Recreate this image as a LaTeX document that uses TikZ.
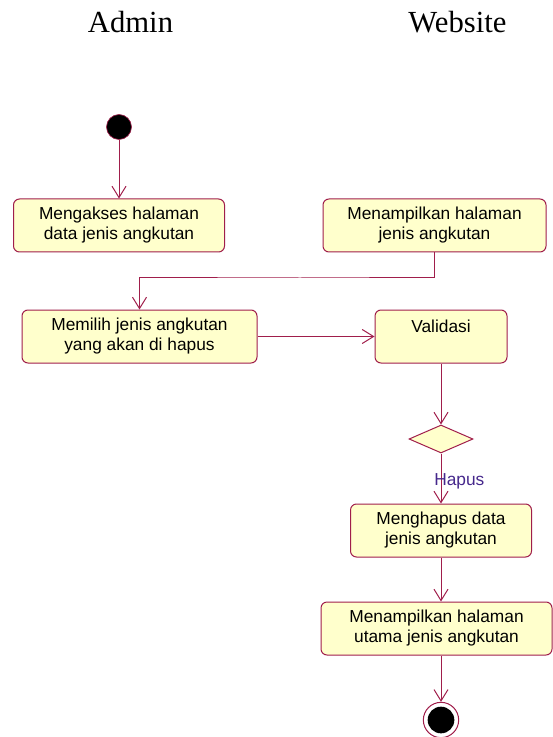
\documentclass[tikz,border=0pt]{standalone}
\usepackage{fontspec}
\setmainfont{Liberation Sans}
\newfontfamily\titlefont{Liberation Serif}
\usetikzlibrary{arrows.meta,shapes.geometric}
\definecolor{garis}{RGB}{160,30,75}
\definecolor{isian}{RGB}{255,255,204}
\definecolor{ungu}{RGB}{70,40,140}

\begin{document}
\begin{tikzpicture}[x=0.75pt, y=-0.75pt, >={Straight Barb[length=8.5pt,width=10.5pt]},
    aksi/.style={draw=garis, fill=isian, line width=0.75pt, rounded corners=4.5pt,
        align=center, inner sep=0pt, minimum height=39.75pt,
        font=\fontsize{13}{15}\selectfont},
    alur/.style={draw=garis, line width=0.75pt, ->},
    judul/.style={anchor=base, font=\titlefont\fontsize{23}{26}\selectfont}]
    \useasboundingbox (0,0) rectangle (552,737);

    % 1. Judul swimlane
    \node[judul] (admin) at (130.5,33) {Admin};
    \node[judul] (web) at (457.5,33) {Website};

    % 2. Titik awal dan akhir
    \node[circle, fill=black, draw=garis, line width=0.5pt, minimum size=18.75pt, inner sep=0pt] (mulai) at (119,127) {};
    \node[circle, fill=white, draw=garis, line width=0.75pt, minimum size=26.5pt, inner sep=0pt] (selesai) at (441,720) {};
    \fill[black] (selesai.center) circle (10pt);

    % 3. Aktivitas
    \node[aksi, minimum width=158.25pt] (akses) at (119,225.5) {Mengakses halaman\\data jenis angkutan};
    \node[aksi, minimum width=167.25pt] (tampil) at (434.5,225.5) {Menampilkan halaman\\jenis angkutan};
    \node[aksi, minimum width=176.25pt] (pilih) at (139.5,336.5) {Memilih jenis angkutan\\yang akan di hapus};
    \node[aksi, minimum width=99pt] (validasi) at (441,336.5) {Validasi\\\mbox{}};
    \node[draw=garis, fill=isian, line width=0.75pt, diamond, inner sep=0pt,
        minimum width=48pt, minimum height=21pt] (cek) at (441,439) {};
    \node[aksi, minimum width=135.75pt] (hapus) at (441,530.5) {Menghapus data\\jenis angkutan};
    \node[aksi, minimum width=173.25pt] (utama) at (436.5,628.5) {Menampilkan halaman\\utama jenis angkutan};

    % 4. Alur
    \coordinate (belok) at (300,278);
    \draw[alur] (mulai) -- (akses);
    \draw[alur] (tampil.south) |- (belok) -| (pilih.north);
    \draw[alur] (pilih.east) -- (validasi.west);
    \draw[alur] (validasi.south) -- (cek.north);
    \draw[alur] (cek.south) -- (hapus.north);
    \node[anchor=base west, inner sep=0pt, text=ungu, font=\fontsize{13}{15}\selectfont] (syarat) at (434,485) {Hapus};
    \draw[alur] (hapus.south) -- (hapus.south |- utama.north);
    \draw[alur] (hapus.south |- utama.south) -- (selesai.north);
\end{tikzpicture}
\end{document}
